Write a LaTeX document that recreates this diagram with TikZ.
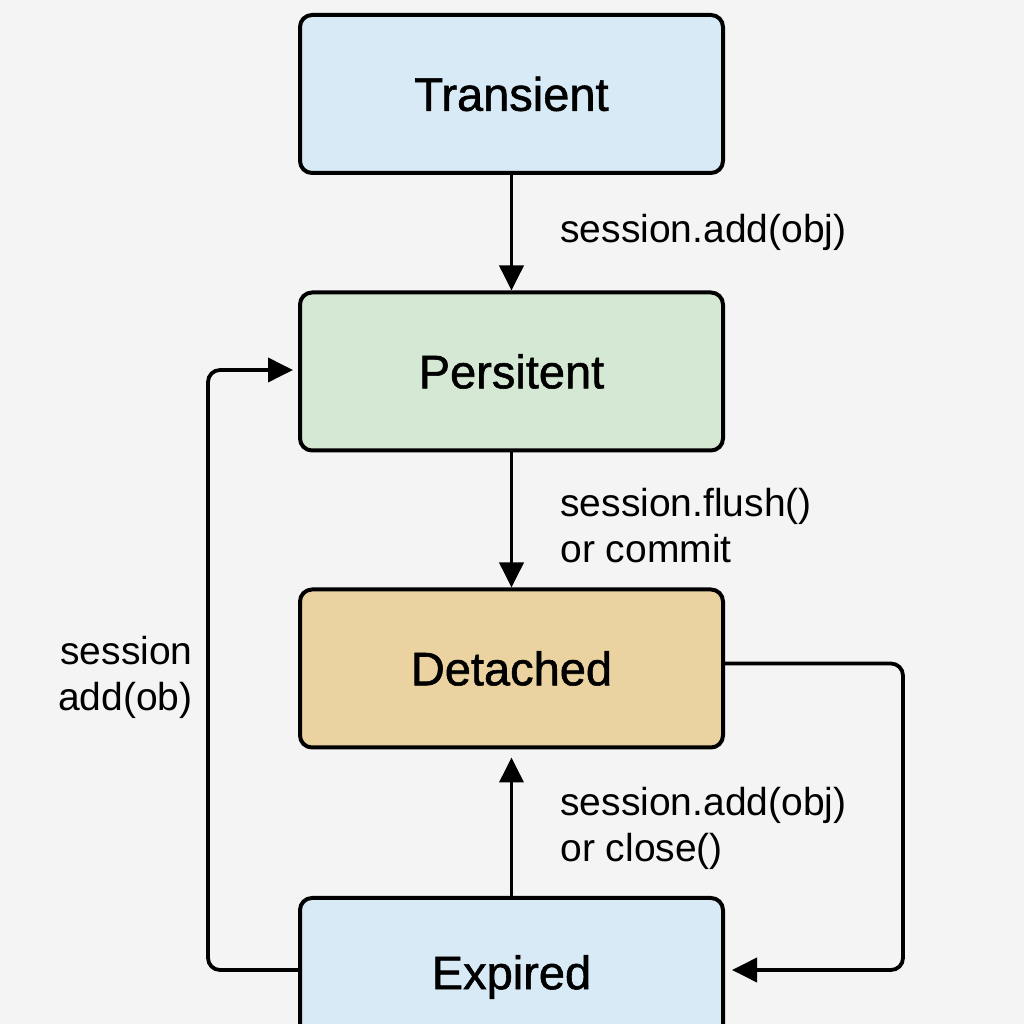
\documentclass[tikz,border=0pt]{standalone}
\usepackage{fontspec}
\setmainfont{Liberation Sans}
\newfontface\boxfont{Liberation Sans}[FakeBold=1.2]
\usetikzlibrary{arrows.meta}
\definecolor{bgcol}{HTML}{F4F4F4}
\definecolor{blueish}{HTML}{D7EAF5}
\definecolor{greenish}{HTML}{D5E8D3}
\definecolor{tannish}{HTML}{EAD3A0}
\begin{document}
\begin{tikzpicture}[x=0.5pt,y=0.5pt,
  state/.style={draw, line width=2pt, rounded corners=6pt, minimum width=211.5pt, minimum height=79pt, font=\boxfont\fontsize{23.5}{28}\selectfont},
  flow/.style={-{Triangle[width=12pt,length=12.5pt]}, line width=1.9pt},
  lbl/.style={inner sep=0pt, font=\fontsize{19.5}{23}\selectfont}]
\fill[bgcol] (0,0) rectangle (1024,1024);
\useasboundingbox (0,0) rectangle (1024,1024);

\node[state, fill=blueish] (transient) at (511.5,930) {Transient};
\node[state, fill=greenish] (persitent) at (511.5,652.5) {Persitent};
\node[state, fill=tannish] (detached) at (511.5,355.5) {Detached};
\node[state, fill=blueish] (expired) at (511.5,47) {Expired};

\draw[flow] (transient) -- (persitent);
\draw[flow] (persitent) -- (detached);
\draw[flow, shorten >=4pt] (expired) -- (detached);
\draw[flow, rounded corners=6pt] ([yshift=2.5pt]detached.east) -| (903,54) -- ([xshift=3.5pt,yshift=3.5pt]expired.east);
\draw[flow, rounded corners=6pt] ([yshift=3.5pt]expired.west) -| (208,654) -- ([xshift=-2.5pt,yshift=0.75pt]persitent.west);

\node[lbl, anchor=west, align=left] (addlbl) at (560,792) {session.add(obj)};
\node[lbl, anchor=west, align=left] (flushlbl) at (560,498.5) {session.flush()\\or commit};
\node[lbl, anchor=west, align=left] (closelbl) at (560,195.5) {session.add(obj)\\or close()};
\node[lbl, anchor=east, align=right] (backlbl) at (193,346.5) {session\\add(ob)};
\end{tikzpicture}
\end{document}
